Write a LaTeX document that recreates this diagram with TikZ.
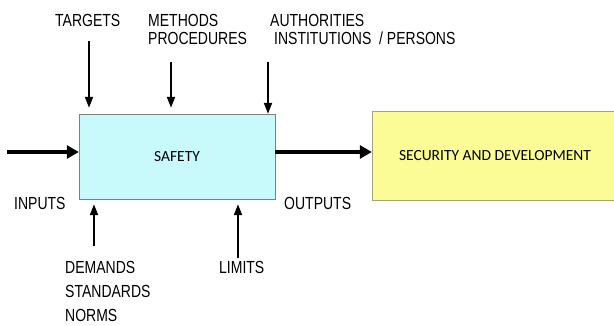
\documentclass[tikz,border=0pt]{standalone}
\usepackage{fontspec}
\setmainfont{Liberation Sans}[FakeStretch=0.8]
\newfontfamily\boxfont{Carlito}
\usetikzlibrary{arrows.meta}

\definecolor{safetyfill}{RGB}{200,250,252}
\definecolor{securityfill}{RGB}{252,252,150}
\definecolor{securityline}{RGB}{165,165,110}

\tikzset{
  lbl/.style={font=\fontsize{17.5}{19}\selectfont, inner sep=0pt, anchor=base west},
  boxtext/.style={font=\boxfont\fontsize{15.5}{17}\selectfont},
  thinarrow/.style={line width=2pt, -{Triangle[length=11pt,width=8pt]}},
  thickarrow/.style={line width=4pt, -{Triangle[length=12pt,width=13pt]}},
}

\begin{document}
\begin{tikzpicture}[x=1pt, y=-1pt]
    \useasboundingbox (0,0) rectangle (614,326);
    % boxes
    \node[draw=gray, fill=safetyfill, minimum width=196pt, minimum height=85pt, boxtext] (safety) at (177,156.5) {SAFETY};
    \node[draw=securityline, fill=securityfill, minimum width=246pt, minimum height=89pt, boxtext] (security) at (495,155.5) {SECURITY AND DEVELOPMENT};
    % top labels
    \node[lbl] (targets) at (55,27) {TARGETS};
    \node[lbl] (methods) at (148,27) {METHODS};
    \node[lbl] (procedures) at (148,45) {PROCEDURES};
    \node[lbl] (authorities) at (270,27) {AUTHORITIES};
    \node[lbl] (institutions) at (274,45) {INSTITUTIONS\ \ / PERSONS};
    % side labels
    \node[lbl] (inputs) at (14,210) {INPUTS};
    \node[lbl] (outputs) at (284,210) {OUTPUTS};
    % bottom labels
    \node[lbl] (demands) at (65,274) {DEMANDS};
    \node[lbl] (standards) at (65,298) {STANDARDS};
    \node[lbl] (norms) at (65,321) {NORMS};
    \node[lbl] (limits) at (219,274) {LIMITS};
    % arrow starts
    \coordinate (ta) at (89,41);
    \coordinate (ma) at (171,62);
    \coordinate (aa) at (268,62);
    \coordinate (da) at (94,246);
    \coordinate (la) at (238,258);
    \coordinate (in) at (7,152);
    \coordinate (out) at (275,152);
    % thin arrows
    \draw[thinarrow, shorten >=6pt] (ta) -- (ta |- safety.north);
    \draw[thinarrow, shorten >=6pt] (ma) -- (ma |- safety.north);
    \draw[thinarrow] (aa) -- (aa |- safety.north);
    \draw[thinarrow, shorten >=5pt] (da) -- (da |- safety.south);
    \draw[thinarrow, shorten >=5pt] (la) -- (la |- safety.south);
    % thick arrows
    \draw[thickarrow] (in) -- (in -| safety.west);
    \draw[thickarrow] (out) -- (out -| security.west);
\end{tikzpicture}
\end{document}
